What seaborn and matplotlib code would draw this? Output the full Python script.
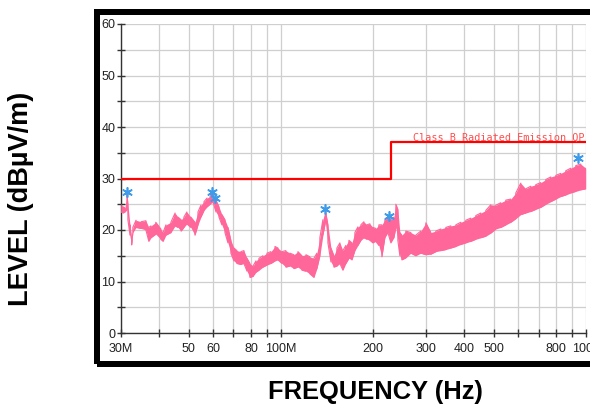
import matplotlib
matplotlib.use("Agg")
import matplotlib.pyplot as plt
from matplotlib.patches import Rectangle
from matplotlib.ticker import FixedLocator, FixedFormatter, NullFormatter
import seaborn as sns
import pandas as pd

# ---- data (MHz, dBuV/m) ----
freq_mhz = [30.0, 30.5, 30.9, 31.4, 31.6, 32.1, 32.5, 32.8, 33.6, 34.9, 36.2, 37.0, 37.6, 39.0,
            40.5, 41.2, 42.1, 43.7, 45.1, 46.1, 47.2, 48.2, 49.3, 50.8, 52.4, 53.6, 54.8, 56.1,
            57.4, 58.7, 60.0, 61.4, 62.8, 64.2, 65.7, 67.2, 68.7, 70.3, 71.9, 74.1, 75.8, 77.6,
            79.3, 81.2, 83.0, 84.9, 87.5, 90.2, 92.9, 95.8, 98.0, 101.0, 104.0, 107.2, 110.5,
            113.9, 117.4, 121.0, 124.6, 128.5, 131.4, 134.4, 137.5, 140.1, 142.8, 146.1, 149.4,
            152.8, 156.3, 159.9, 163.5, 167.3, 171.1, 175.0, 179.0, 183.1, 187.3, 191.6, 196.0,
            200.5, 205.0, 209.7, 214.5, 219.4, 224.5, 229.6, 234.8, 238.4, 242.0, 245.7, 249.4,
            257.0, 266.9, 277.1, 287.8, 298.9, 310.3, 322.3, 334.7, 347.5, 360.8, 374.7, 389.0,
            404.0, 419.5, 435.6, 452.4, 469.8, 487.7, 506.5, 526.0, 546.1, 567.1, 589.0, 611.5,
            635.1, 659.5, 684.7, 711.0, 738.5, 766.7, 796.2, 826.8, 858.4, 891.5, 925.8, 961.2,
            998.0]
level_hi = [24.9, 24.5, 24.3, 27.0, 25.0, 21.0, 18.0, 20.5, 21.9, 21.6, 21.8, 20.5, 20.8, 21.5,
            20.2, 19.5, 21.0, 21.5, 23.3, 22.5, 22.0, 22.5, 23.5, 22.5, 21.5, 23.5, 24.8, 25.5,
            26.2, 26.5, 27.2, 25.8, 24.5, 23.0, 22.0, 20.5, 18.0, 16.5, 16.0, 15.8, 16.0, 14.5,
            13.5, 13.0, 14.0, 14.5, 15.0, 15.5, 15.8, 16.8, 16.5, 15.8, 16.0, 15.5, 15.2,
            15.8, 15.0, 15.2, 14.8, 14.5, 15.5, 18.5, 22.0, 23.8, 21.0, 16.5, 15.0,
            16.5, 17.5, 16.0, 17.0, 18.0, 17.5, 19.5, 20.6, 21.0, 21.6, 21.0, 21.2,
            20.5, 20.3, 21.0, 21.0, 22.0, 22.5, 22.0, 22.5, 25.0, 24.0, 19.5, 19.0,
            19.8, 19.5, 19.0, 19.8, 21.4, 19.5, 19.8, 20.2, 20.5, 20.8, 21.0, 21.5,
            21.9, 22.3, 22.8, 23.3, 23.8, 24.9, 24.8, 25.3, 25.8, 26.0, 27.2, 29.1,
            28.0, 28.5, 28.8, 29.2, 29.8, 30.3, 30.6, 31.0, 31.5, 32.0, 32.5, 32.8,
            32.0]
level_lo = [23.5, 23.3, 23.5, 24.0, 22.0, 19.0, 17.1, 19.5, 20.5, 20.3, 20.0, 17.8, 18.5, 19.2,
            18.2, 17.8, 19.0, 19.5, 20.8, 20.5, 19.8, 20.5, 21.2, 20.5, 19.0, 21.0, 22.5, 23.8,
            24.5, 25.0, 25.5, 23.5, 22.5, 21.0, 19.5, 17.5, 15.5, 14.0, 13.5, 13.3, 13.5, 12.0,
            10.8, 11.0, 11.8, 12.2, 12.8, 13.2, 13.5, 14.0, 14.2, 13.5, 12.8, 13.0, 12.5,
            12.8, 12.2, 12.0, 11.5, 10.8, 12.5, 15.0, 19.0, 21.5, 17.5, 13.8, 12.8,
            13.0, 13.5, 12.2, 13.5, 14.5, 14.2, 16.0, 17.0, 18.0, 18.5, 18.2, 18.0,
            17.5, 17.8, 17.0, 14.8, 18.5, 19.5, 17.5, 18.5, 20.5, 18.0, 15.0, 14.2,
            14.6, 15.5, 15.0, 15.5, 15.2, 15.3, 15.8, 16.0, 16.2, 16.5, 16.8, 17.2,
            17.5, 17.8, 18.2, 18.5, 18.8, 19.4, 20.2, 20.5, 21.0, 21.5, 22.2, 23.0,
            23.3, 23.6, 24.0, 24.4, 25.0, 25.5, 26.0, 26.5, 26.8, 27.2, 27.5, 27.8,
            28.0]

peak_freq = [31.5, 59.7, 61.0, 140.2, 226.6, 942.0]
peak_level = [27.3, 27.3, 26.2, 24.1, 22.7, 33.9]

limit_freq = [30, 230, 1000]
limit_level = [30, 37, 37]
limit_label = "Class B Radiated Emission QP"

xtick_values = [30, 50, 60, 80, 100, 200, 300, 400, 500, 800, 1000]
xtick_labels = ["30M", "50", "60", "80", "100M", "200", "300", "400", "500", "800", "1000"]
xminor_values = [40, 70, 90, 600, 700, 900]
ytick_values = [0, 10, 20, 30, 40, 50, 60]
yminor_values = [5, 15, 25, 35, 45, 55]

# ---- style ----
sns.set_theme(style="white")
plt.rcParams["font.family"] = ["Liberation Sans", "DejaVu Sans"]

W, H = 590, 405
fig = plt.figure(figsize=(W / 100, H / 100), dpi=100)
fig.patch.set_facecolor("white")

ax = fig.add_axes([121 / W, (H - 333) / H, 465 / W, 309 / H])
ax.set_facecolor("white")

# zig-zag trace through upper / lower values (reproduces the dense noisy sweep)
xs, ys = [], []
for i, (f, h, l) in enumerate(zip(freq_mhz, level_hi, level_lo)):
    if i % 2 == 0:
        xs += [f, f]; ys += [h, l]
    else:
        xs += [f, f]; ys += [l, h]
trace = pd.DataFrame({"freq": xs, "level": ys})

trace_color = "#ff6699"
ax.fill_between(freq_mhz, level_lo, level_hi, color=trace_color, lw=0, zorder=3)
sns.lineplot(data=trace, x="freq", y="level", sort=False, estimator=None,
             color=trace_color, lw=0.8, ax=ax, zorder=3)

lim = pd.DataFrame({"freq": limit_freq, "level": limit_level})
sns.lineplot(data=lim, x="freq", y="level", drawstyle="steps-post", sort=False,
             estimator=None, color="#ff0000", lw=1.6, ax=ax, zorder=4)

pk = pd.DataFrame({"freq": peak_freq, "level": peak_level})
sns.scatterplot(data=pk, x="freq", y="level", marker=(6, 2, 0), s=45,
                color="#3d9be9", linewidth=1.2, ax=ax, zorder=5)

ax.text(271, 37.4, limit_label, color="#ff4d4d", fontsize=7.25,
        family=["DejaVu Sans Mono"], va="baseline", ha="left",
        clip_on=False, zorder=6)

ax.set_xscale("log")
ax.set_xlim(30, 1000)
ax.set_ylim(0, 60)
ax.xaxis.set_major_locator(FixedLocator(xtick_values))
ax.xaxis.set_major_formatter(FixedFormatter(xtick_labels))
ax.xaxis.set_minor_locator(FixedLocator(xminor_values))
ax.xaxis.set_minor_formatter(NullFormatter())
ax.yaxis.set_major_locator(FixedLocator(ytick_values))
ax.yaxis.set_minor_locator(FixedLocator(yminor_values))
ax.yaxis.set_minor_formatter(NullFormatter())

ax.grid(True, which="both", color="#cfcfcf", lw=0.9, zorder=0)
ax.set_axisbelow(True)
for s in ["top", "right"]:
    ax.spines[s].set_visible(False)
for s in ["left", "bottom"]:
    ax.spines[s].set_color("#333333")
    ax.spines[s].set_linewidth(1.0)
    ax.spines[s].set_zorder(2)

ax.tick_params(which="both", direction="inout", length=6, width=1.0, color="#333333",
               labelsize=9, labelcolor="#222222", left=True, bottom=True)
ax.tick_params(axis="x", which="both", pad=4)
ax.tick_params(axis="y", which="both", pad=1)
ax.set_xlabel("")
ax.set_ylabel("")

# thick black frame (right side runs past the image edge)
fig.add_artist(Rectangle((97 / W, (H - 364) / H), 0.95, (364 - 12) / H,
                         transform=fig.transFigure, fill=False, ec="black",
                         lw=6 * 72 / 100, joinstyle="miter", zorder=0))

fig.text(21 / W, 1 - 199 / H, "LEVEL (dBµV/m)", rotation=90, ha="center", va="center",
         fontsize=19.5, fontweight="bold", color="black")
fig.text(375 / W, 1 - 399 / H, "FREQUENCY (Hz)", ha="center", va="baseline",
         fontsize=18.4, fontweight="bold", color="black")

fig.savefig("out.png", dpi=100, facecolor="white")
